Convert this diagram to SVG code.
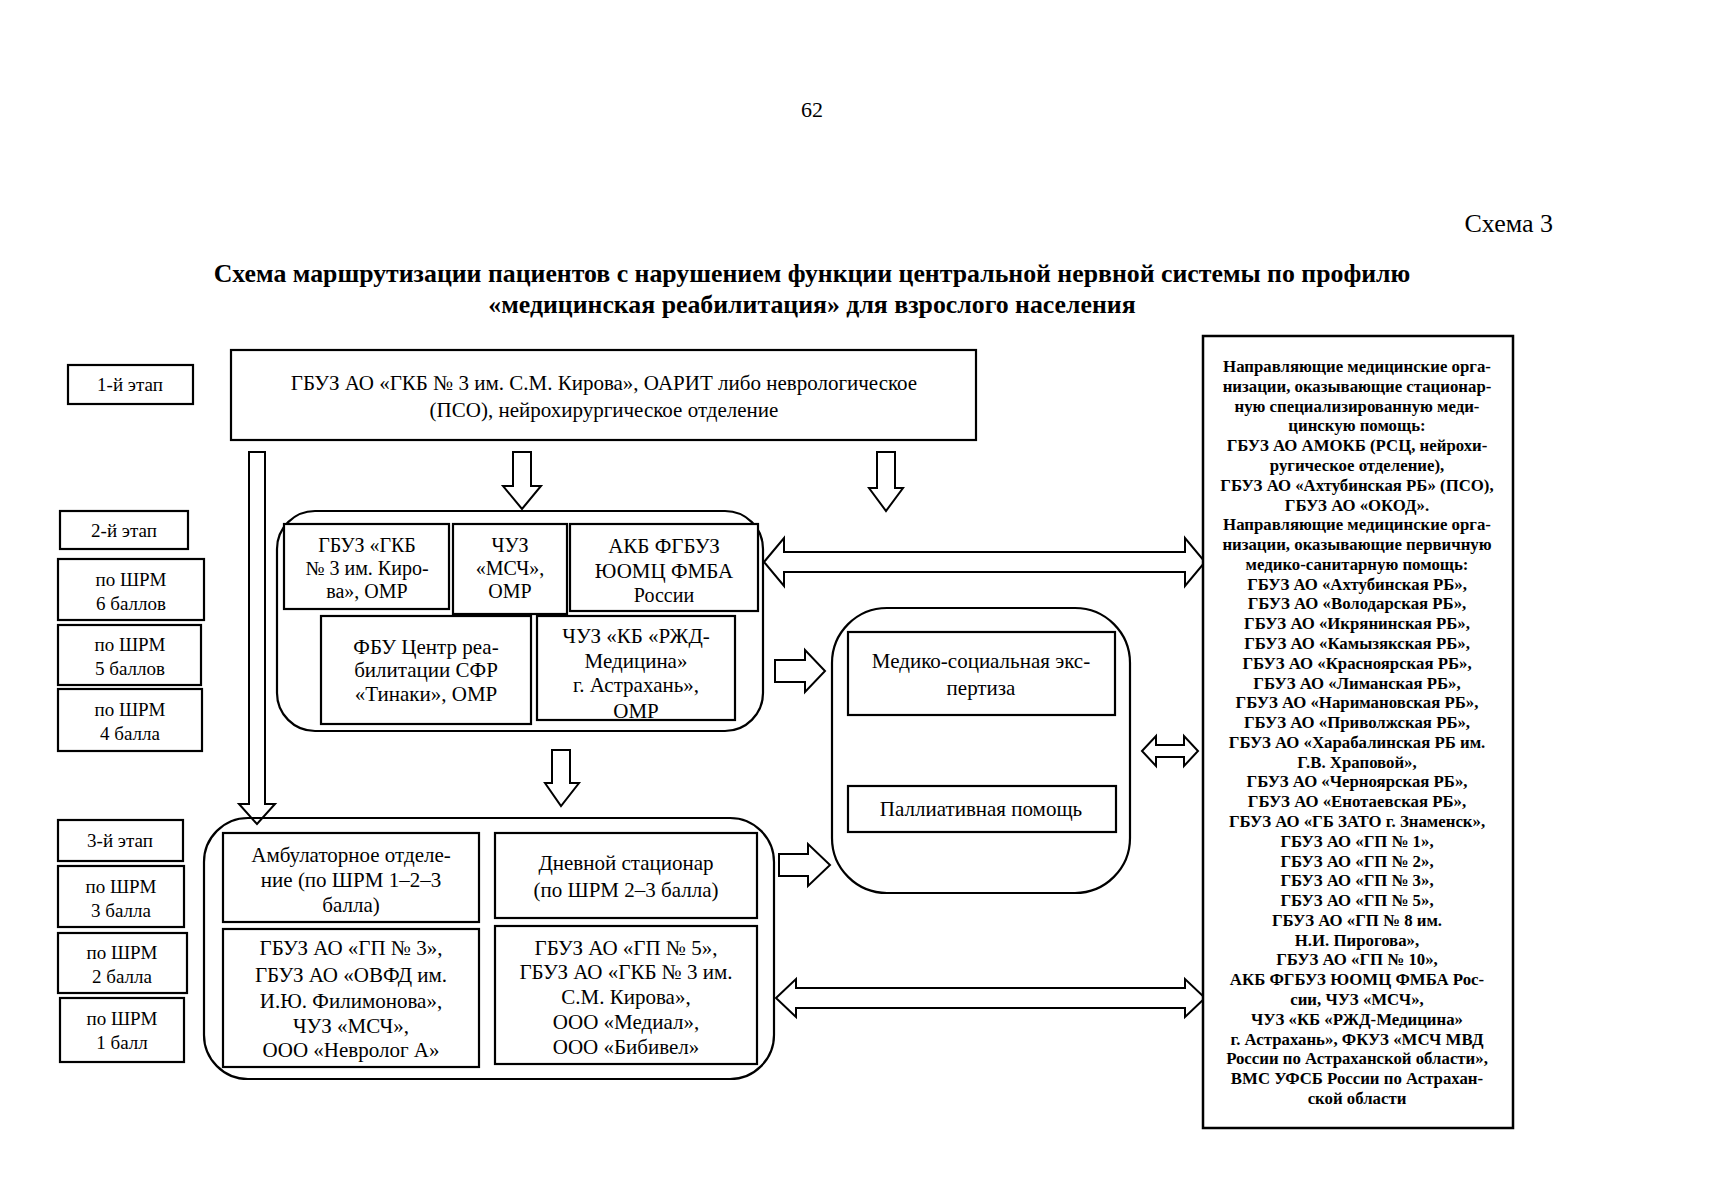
<svg xmlns="http://www.w3.org/2000/svg" width="1713" height="1200" viewBox="0 0 1713 1200">
<style>
text{font-family:"Liberation Serif","Times New Roman",serif;fill:#000;text-anchor:middle}
.n{font-size:20px}
.m{font-size:21px}
.s{font-size:19px}
.r{font-size:16.8px;font-weight:bold}
.t{font-size:25.8px;font-weight:bold}
.box{fill:#fff;stroke:#000;stroke-width:2.2}
.cont{fill:none;stroke:#000;stroke-width:2.2}
.arr{fill:#fff;stroke:#000;stroke-width:2;stroke-linejoin:miter}
</style>
<rect width="1713" height="1200" fill="#fff"/>
<text x="812" y="117" style="font-size:22px">62</text>
<text x="1553" y="232" style="font-size:26px;text-anchor:end">Схема 3</text>
<text class="t" x="812" y="282">Схема маршрутизации пациентов с нарушением функции центральной нервной системы по профилю</text>
<text class="t" x="812" y="313">«медицинская реабилитация» для взрослого населения</text>

<g id="connectors">
<polygon class="arr" points="249,452 265,452 265,804 275,804 257,824 239,804 249,804"/>
<polygon class="arr" points="513,452 531,452 531,486 541,486 522,509 503,486 513,486"/>
<polygon class="arr" points="877,452 895,452 895,488 903,488 886,511 869,488 877,488"/>
<polygon class="arr" points="552,750 570,750 570,783 579,783 561,806 545,783 552,783"/>
<polygon class="arr" points="775,660 805,660 805,650 825,671 805,692 805,682 775,682"/>
<polygon class="arr" points="779,854 808,854 808,844 830,865 808,886 808,876 779,876"/>
<polygon class="arr" points="764,562 784,538 784,552 1185,552 1185,538 1205,562 1185,586 1185,572 784,572 784,586"/>
<polygon class="arr" points="1142,751 1156,736 1156,745 1184,745 1184,736 1198,751 1184,766 1184,757 1156,757 1156,766"/>
<polygon class="arr" points="776,998 796,979 796,988 1185,988 1185,979 1205,998 1185,1017 1185,1008 796,1008 796,1017"/>
</g>

<g id="stage1">
<rect class="box" x="68" y="365" width="125" height="39"/>
<text class="s" x="130" y="391">1-й этап</text>
</g>
<g id="stage2">
<rect class="box" x="60" y="511" width="128" height="38"/>
<text class="s" x="124" y="537">2-й этап</text>
</g>
<g id="shrm6">
<rect class="box" x="58" y="559" width="146" height="61"/>
<text class="s" x="131" y="586">по ШРМ</text>
<text class="s" x="131" y="610">6 баллов</text>
</g>
<g id="shrm5">
<rect class="box" x="58" y="625" width="143" height="60"/>
<text class="s" x="130" y="651">по ШРМ</text>
<text class="s" x="130" y="675">5 баллов</text>
</g>
<g id="shrm4">
<rect class="box" x="58" y="689" width="144" height="62"/>
<text class="s" x="130" y="716">по ШРМ</text>
<text class="s" x="130" y="740">4 балла</text>
</g>
<g id="stage3">
<rect class="box" x="58" y="820" width="125" height="41"/>
<text class="s" x="120" y="847">3-й этап</text>
</g>
<g id="shrm3">
<rect class="box" x="58" y="866" width="126" height="61"/>
<text class="s" x="121" y="893">по ШРМ</text>
<text class="s" x="121" y="917">3 балла</text>
</g>
<g id="shrm2">
<rect class="box" x="58" y="933" width="129" height="60"/>
<text class="s" x="122" y="959">по ШРМ</text>
<text class="s" x="122" y="983">2 балла</text>
</g>
<g id="shrm1">
<rect class="box" x="60" y="998" width="124" height="64"/>
<text class="s" x="122" y="1025">по ШРМ</text>
<text class="s" x="122" y="1049">1 балл</text>
</g>

<g id="top">
<rect class="box" x="231" y="350" width="745" height="90"/>
<text class="m" x="604" y="390">ГБУЗ АО «ГКБ № 3 им. С.М. Кирова», ОАРИТ либо неврологическое</text>
<text class="m" x="604" y="417">(ПСО), нейрохирургическое отделение</text>
</g>

<g id="stage2-group">
<rect class="cont" x="277" y="511" width="486" height="220" rx="38"/>
<g id="gkb3">
<rect class="box" x="284" y="524" width="165" height="85"/>
<text class="n" x="367" y="552">ГБУЗ «ГКБ</text>
<text class="n" x="367" y="575">№ 3 им. Киро-</text>
<text class="n" x="367" y="598">ва», ОМР</text>
</g>
<g id="msch">
<rect class="box" x="453" y="524" width="114" height="90"/>
<text class="n" x="510" y="552">ЧУЗ</text>
<text class="n" x="510" y="575">«МСЧ»,</text>
<text class="n" x="510" y="598">ОМР</text>
</g>
<g id="akb">
<rect class="box" x="570" y="524" width="188" height="87"/>
<text class="m" x="664" y="553">АКБ ФГБУЗ</text>
<text class="m" x="664" y="578">ЮОМЦ ФМБА</text>
<text class="n" x="664" y="602">России</text>
</g>
<g id="tinaki">
<rect class="box" x="321" y="616" width="210" height="108"/>
<text class="m" x="426" y="654">ФБУ Центр реа-</text>
<text class="m" x="426" y="677">билитации СФР</text>
<text class="m" x="426" y="701">«Тинаки», ОМР</text>
</g>
<g id="rzd">
<text class="m" x="636" y="643">ЧУЗ «КБ «РЖД-</text>
<text class="m" x="636" y="668">Медицина»</text>
<text class="m" x="636" y="692">г. Астрахань»,</text>
<text class="m" x="636" y="718">ОМР</text>
<rect class="cont" x="537" y="616" width="198" height="104"/>
</g>
</g>

<g id="stage3-group">
<rect class="cont" x="204" y="818" width="570" height="261" rx="44"/>
<g id="amb">
<rect class="box" x="223" y="833" width="256" height="89"/>
<text class="m" x="351" y="862">Амбулаторное отделе-</text>
<text class="m" x="351" y="887">ние (по ШРМ 1–2–3</text>
<text class="m" x="351" y="912">балла)</text>
</g>
<g id="day">
<rect class="box" x="495" y="833" width="262" height="85"/>
<text class="m" x="626" y="870">Дневной стационар</text>
<text class="m" x="626" y="897">(по ШРМ 2–3 балла)</text>
</g>
<g id="amb-list">
<rect class="box" x="223" y="929" width="256" height="138"/>
<text class="m" x="351" y="955">ГБУЗ АО «ГП № 3»,</text>
<text class="m" x="351" y="982">ГБУЗ АО «ОВФД им.</text>
<text class="m" x="351" y="1008">И.Ю. Филимонова»,</text>
<text class="m" x="351" y="1033">ЧУЗ «МСЧ»,</text>
<text class="m" x="351" y="1057">ООО «Невролог А»</text>
</g>
<g id="day-list">
<rect class="box" x="495" y="926" width="262" height="138"/>
<text class="m" x="626" y="955">ГБУЗ АО «ГП № 5»,</text>
<text class="m" x="626" y="979">ГБУЗ АО «ГКБ № 3 им.</text>
<text class="m" x="626" y="1004">С.М. Кирова»,</text>
<text class="m" x="626" y="1029">ООО «Медиал»,</text>
<text class="m" x="626" y="1054">ООО «Бибивел»</text>
</g>
</g>

<g id="mse-group">
<rect class="cont" x="832" y="608" width="298" height="285" rx="55"/>
<g id="mse">
<rect class="box" x="848" y="632" width="267" height="83"/>
<text class="m" x="981" y="668">Медико-социальная экс-</text>
<text class="m" x="981" y="695">пертиза</text>
</g>
<g id="pall">
<rect class="box" x="848" y="786" width="268" height="46"/>
<text class="m" x="981" y="816">Паллиативная помощь</text>
</g>
</g>

<g id="referring">
<rect class="box" x="1203" y="336" width="310" height="792" style="stroke-width:2.5"/>
<text class="r" x="1357" y="372">Направляющие медицинские орга-</text>
<text class="r" x="1357" y="391.8">низации, оказывающие стационар-</text>
<text class="r" x="1357" y="411.6">ную специализированную меди-</text>
<text class="r" x="1357" y="431.3">цинскую помощь:</text>
<text class="r" x="1357" y="451.1">ГБУЗ АО АМОКБ (РСЦ, нейрохи-</text>
<text class="r" x="1357" y="470.9">ругическое отделение),</text>
<text class="r" x="1357" y="490.7">ГБУЗ АО «Ахтубинская РБ» (ПСО),</text>
<text class="r" x="1357" y="510.5">ГБУЗ АО «ОКОД».</text>
<text class="r" x="1357" y="530.2">Направляющие медицинские орга-</text>
<text class="r" x="1357" y="550">низации, оказывающие первичную</text>
<text class="r" x="1357" y="569.8">медико-санитарную помощь:</text>
<text class="r" x="1357" y="589.6">ГБУЗ АО «Ахтубинская РБ»,</text>
<text class="r" x="1357" y="609.4">ГБУЗ АО «Володарская РБ»,</text>
<text class="r" x="1357" y="629.1">ГБУЗ АО «Икрянинская РБ»,</text>
<text class="r" x="1357" y="648.9">ГБУЗ АО «Камызякская РБ»,</text>
<text class="r" x="1357" y="668.7">ГБУЗ АО «Красноярская РБ»,</text>
<text class="r" x="1357" y="688.5">ГБУЗ АО «Лиманская РБ»,</text>
<text class="r" x="1357" y="708.3">ГБУЗ АО «Наримановская РБ»,</text>
<text class="r" x="1357" y="728">ГБУЗ АО «Приволжская РБ»,</text>
<text class="r" x="1357" y="747.8">ГБУЗ АО «Харабалинская РБ им.</text>
<text class="r" x="1357" y="767.6">Г.В. Храповой»,</text>
<text class="r" x="1357" y="787.4">ГБУЗ АО «Черноярская РБ»,</text>
<text class="r" x="1357" y="807.2">ГБУЗ АО «Енотаевская РБ»,</text>
<text class="r" x="1357" y="826.9">ГБУЗ АО «ГБ ЗАТО г. Знаменск»,</text>
<text class="r" x="1357" y="846.7">ГБУЗ АО «ГП № 1»,</text>
<text class="r" x="1357" y="866.5">ГБУЗ АО «ГП № 2»,</text>
<text class="r" x="1357" y="886.3">ГБУЗ АО «ГП № 3»,</text>
<text class="r" x="1357" y="906.1">ГБУЗ АО «ГП № 5»,</text>
<text class="r" x="1357" y="925.8">ГБУЗ АО «ГП № 8 им.</text>
<text class="r" x="1357" y="945.6">Н.И. Пирогова»,</text>
<text class="r" x="1357" y="965.4">ГБУЗ АО «ГП № 10»,</text>
<text class="r" x="1357" y="985.2">АКБ ФГБУЗ ЮОМЦ ФМБА Рос-</text>
<text class="r" x="1357" y="1005">сии, ЧУЗ «МСЧ»,</text>
<text class="r" x="1357" y="1024.7">ЧУЗ «КБ «РЖД-Медицина»</text>
<text class="r" x="1357" y="1044.5">г. Астрахань», ФКУЗ «МСЧ МВД</text>
<text class="r" x="1357" y="1064.3">России по Астраханской области»,</text>
<text class="r" x="1357" y="1084.1">ВМС УФСБ России по Астрахан-</text>
<text class="r" x="1357" y="1104">ской области</text>
</g>
</svg>
